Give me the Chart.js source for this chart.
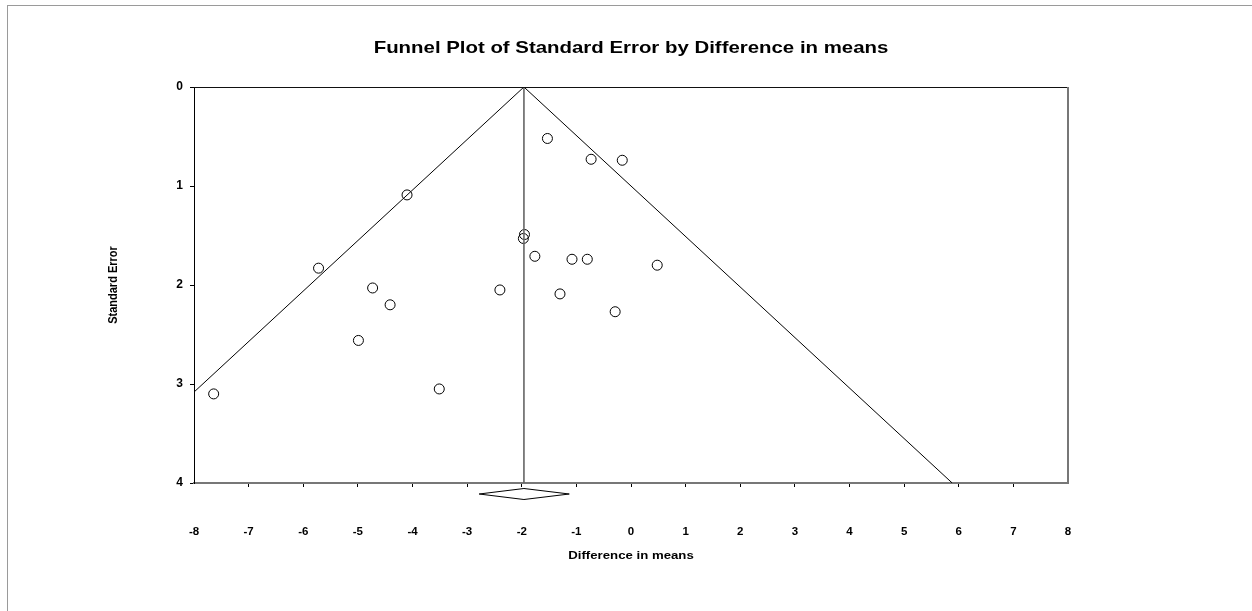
<!DOCTYPE html>
<html>
<head>
<meta charset="utf-8">
<script src="https://cdn.jsdelivr.net/npm/chart.js@4/dist/chart.umd.min.js"></script>
<style>
  html, body { margin: 0; padding: 0; background: #fff; }
  #wrap { position: relative; width: 1252px; height: 611px; overflow: hidden; }
  #frame { position: absolute; left: 7px; top: 5px; right: 0; bottom: 0;
           border-top: 1px solid #9a9a9a; border-left: 1px solid #9a9a9a; }
  canvas { position: absolute; left: 0; top: 0; }
</style>
</head>
<body>
<div id="wrap">
  <div id="frame"></div>
  <canvas id="funnel" width="1252" height="611"></canvas>
</div>
<script>
// Study effects (difference in means) and their standard errors
const studyDiff = [-7.64, -5.72, -4.73, -4.41, -4.99, -4.10, -3.51, -2.40, -1.97, -1.95,
                   -1.76, -1.53, -1.30, -1.08, -0.80, -0.73, -0.16, -0.29, 0.48];
const studySE   = [3.10, 1.83, 2.03, 2.20, 2.56, 1.09, 3.05, 2.05, 1.53, 1.49,
                   1.71, 0.52, 2.09, 1.74, 1.74, 0.73, 0.74, 2.27, 1.80];

// Pooled estimate and its confidence interval
const pooledMean = -1.96;
const ciLow = -2.78;
const ciHigh = -1.13;
const zCrit = 1.96;

// Axis ticks
const xTicks = [-8, -7, -6, -5, -4, -3, -2, -1, 0, 1, 2, 3, 4, 5, 6, 7, 8];
const yTicks = [0, 1, 2, 3, 4];

const FONT = '"Liberation Sans", Arial, Helvetica, sans-serif';
const TEXT_STRETCH = 1.2;   // labels are drawn slightly widened
const seMax = yTicks[yTicks.length - 1];

const points = studyDiff.map((d, i) => ({ x: d, y: studySE[i] }));

function wideText(ctx, text, x, y, font, angle) {
  ctx.save();
  ctx.font = font;
  ctx.textAlign = 'center';
  ctx.textBaseline = 'middle';
  ctx.translate(x, y);
  ctx.scale(TEXT_STRETCH, 1);
  if (angle) ctx.rotate(angle);
  ctx.fillText(text, 0, 0);
  ctx.restore();
}

// Text labels, plot frame and summary diamond
const decorations = {
  id: 'decorations',
  afterDatasetsDraw(chart) {
    const { ctx, chartArea: a, scales } = chart;
    const xs = scales.x;
    ctx.save();
    // top and right edges of the plot box
    ctx.lineWidth = 1;
    ctx.strokeStyle = '#111';
    ctx.beginPath();
    ctx.moveTo(a.left, a.top + 0.5);
    ctx.lineTo(a.right, a.top + 0.5);
    ctx.stroke();
    ctx.lineWidth = 2;
    ctx.strokeStyle = '#777';
    ctx.beginPath();
    ctx.moveTo(a.right, a.top);
    ctx.lineTo(a.right, a.bottom);
    ctx.stroke();

    // summary diamond below the axis
    const cy = a.bottom + 11;
    const h = 5.5;
    ctx.lineWidth = 1;
    ctx.strokeStyle = '#000';
    ctx.beginPath();
    ctx.moveTo(xs.getPixelForValue(ciLow), cy);
    ctx.lineTo(xs.getPixelForValue(pooledMean), cy - h);
    ctx.lineTo(xs.getPixelForValue(ciHigh), cy);
    ctx.lineTo(xs.getPixelForValue(pooledMean), cy + h);
    ctx.closePath();
    ctx.stroke();

    // titles
    ctx.fillStyle = '#000';
    const cx = (a.left + a.right) / 2;
    wideText(ctx, 'Funnel Plot of Standard Error by Difference in means', cx, 48, 'bold 17px ' + FONT);
    wideText(ctx, 'Difference in means', cx, 556, 'bold 11px ' + FONT);
    wideText(ctx, 'Standard Error', 113, (a.top + a.bottom) / 2, 'bold 11px ' + FONT, -Math.PI / 2);
    ctx.restore();
  }
};

new Chart(document.getElementById('funnel'), {
  type: 'scatter',
  data: {
    datasets: [
      {
        label: 'Lower limit',
        data: [{ x: pooledMean, y: 0 }, { x: pooledMean - zCrit * seMax, y: seMax }],
        showLine: true, borderColor: '#000', borderWidth: 1, pointRadius: 0
      },
      {
        label: 'Upper limit',
        data: [{ x: pooledMean, y: 0 }, { x: pooledMean + zCrit * seMax, y: seMax }],
        showLine: true, borderColor: '#000', borderWidth: 1, pointRadius: 0
      },
      {
        label: 'Pooled mean',
        data: [{ x: pooledMean, y: 0 }, { x: pooledMean, y: seMax }],
        showLine: true, borderColor: '#666', borderWidth: 1.6, pointRadius: 0
      },
      {
        label: 'Studies',
        data: points,
        showLine: false,
        pointStyle: 'circle',
        pointRadius: 5,
        pointBorderWidth: 1,
        borderColor: '#000',
        backgroundColor: 'rgba(0,0,0,0)'
      }
    ]
  },
  options: {
    responsive: false,
    animation: false,
    devicePixelRatio: 1,
    layout: { padding: { left: 0, top: 87, right: 184, bottom: 0 } },
    plugins: { legend: { display: false }, tooltip: { enabled: false }, title: { display: false } },
    scales: {
      x: {
        type: 'linear',
        position: 'bottom',
        min: xTicks[0],
        max: xTicks[xTicks.length - 1],
        afterBuildTicks(s) { s.ticks = xTicks.map(v => ({ value: v })); },
        afterFit(s) { s.height = 128; },
        ticks: {
          color: '#000',
          font: { family: FONT, size: 11.5, weight: 'bold' },
          padding: 38,
          maxRotation: 0,
          autoSkip: false
        },
        grid: {
          drawOnChartArea: false,
          drawTicks: true,
          tickLength: 4,
          lineWidth: 1,
          color: c => (c.index === 0 || c.index === xTicks.length - 1) ? 'rgba(0,0,0,0)' : '#000'
        },
        border: { display: true, color: '#777', width: 2 }
      },
      y: {
        type: 'linear',
        position: 'left',
        reverse: true,
        min: yTicks[0],
        max: yTicks[yTicks.length - 1],
        afterBuildTicks(s) { s.ticks = yTicks.map(v => ({ value: v })); },
        afterFit(s) { s.width = 194; },
        ticks: {
          color: '#000',
          font: { family: FONT, size: 12, weight: 'bold' },
          padding: 7,
          autoSkip: false
        },
        grid: {
          drawOnChartArea: false,
          drawTicks: true,
          tickLength: 4,
          lineWidth: 1,
          color: '#000'
        },
        border: { display: true, color: '#000', width: 1 }
      }
    }
  },
  plugins: [decorations]
});
</script>
</body>
</html>
